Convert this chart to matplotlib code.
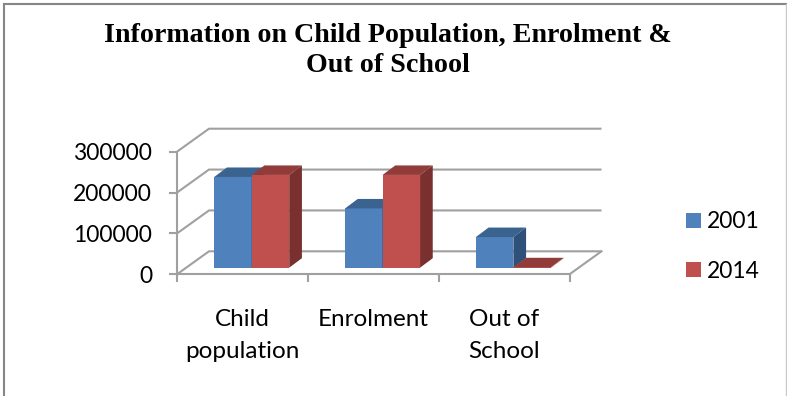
# -*- coding: utf-8 -*-

import numpy as np
import matplotlib.pyplot as plt
from matplotlib.patches import Polygon, Rectangle

categories = ["Child\npopulation", "Enrolment", "Out of\nSchool"]
years = ["2001", "2014"]
values_2001 = [222000, 145000, 75000]
values_2014 = [227000, 227000, 1000]
y_ticks = [0, 100000, 200000, 300000]

W, H = 787, 396
grey = "#a0a0a0"
colours = {"2001": ("#4f81bd", "#3b6390", "#2f5078"), "2014": ("#c0504d", "#923c3a", "#7a302e")}

fig = plt.figure(figsize=(W / 100, H / 100), dpi=100)
# main axes sits on the front edge of the 3d floor
left, right, bottom, top = 177, 569.5, 274.3, 151.7
ax = fig.add_axes([left / W, 1 - bottom / H, (right - left) / W, (bottom - top) / H])
ax.set_xlim(0, 3)
ax.set_ylim(0, 300000)
ax.patch.set_visible(False)

px = 3 / (right - left)            # data units per pixel
py = 300000 / (bottom - top)

# back wall and floor
depth_x, depth_y = 32 * px, 23 * py
for t in y_ticks:
    ax.plot([0, depth_x, 3 + depth_x], [t, t + depth_y, t + depth_y], color=grey, lw=1.5,
            clip_on=False, zorder=1, solid_capstyle="butt")
ax.plot([3, 3 + depth_x], [0, depth_y], color=grey, lw=1.5, clip_on=False, zorder=1)

# bars
off_x, off_y = 9.3 * px, 6.6 * py
bar_w = 37.5 * px
bar_dx, bar_dy = 12.7 * px, 9.5 * py


def bar3d(x0, val, year):
    front, topc, side = colours[year]
    x1 = x0 + bar_w
    ax.add_patch(Rectangle((x0, off_y), bar_w, val, fc=front, ec="none", zorder=3, clip_on=False))
    ax.add_patch(Polygon([(x0, off_y + val), (x1, off_y + val),
                          (x1 + bar_dx, off_y + val + bar_dy), (x0 + bar_dx, off_y + val + bar_dy)],
                         fc=topc, ec="none", zorder=3, clip_on=False))
    ax.add_patch(Polygon([(x1, off_y), (x1 + bar_dx, off_y + bar_dy),
                          (x1 + bar_dx, off_y + val + bar_dy), (x1, off_y + val)],
                         fc=side, ec="none", zorder=3, clip_on=False))


for i in range(3):
    c = i + 0.5 + off_x
    bar3d(c - bar_w, values_2001[i], "2001")
    bar3d(c, values_2014[i], "2014")

# axes
for s in ["top", "right"]:
    ax.spines[s].set_visible(False)
for s in ["left", "bottom"]:
    ax.spines[s].set_color(grey)
    ax.spines[s].set_linewidth(1.5)
    ax.spines[s].set_zorder(2)
ax.set_yticks(y_ticks)
ax.set_yticklabels([str(t) for t in y_ticks], fontsize=16.5, family="Lato", color="black")
ax.set_xticks(np.arange(4))
ax.set_xticklabels([])
ax.tick_params(axis="both", color=grey, width=1.5, length=6, pad=12)
for i, cat in enumerate(categories):
    ax.text(i + 0.5, -84000, cat, ha="center", va="top", fontsize=17.5, family="Lato",
            color="black", linespacing=1.65)

# legend
for name, y, sw in zip(years, [222, 271], [220.5, 269.5]):
    fig.patches.append(Rectangle((686 / W, 1 - (sw + 7.5) / H), 15 / W, 15 / H, fc=colours[name][0],
                                 ec="none", transform=fig.transFigure))
    fig.text(707 / W, 1 - y / H, name, ha="left", va="center", fontsize=16.5, family="Lato", color="black")

fig.text(388 / W, 1 - 36 / H, "Information on Child Population, Enrolment &", ha="center", va="center",
         fontsize=20.2, family="Liberation Serif", weight="bold", color="black")
fig.text(388 / W, 1 - 66 / H, "Out of School", ha="center", va="center",
         fontsize=20.2, family="Liberation Serif", weight="bold", color="black")

# chart frame, no bottom edge in the crop
border = "#868686"
fig.add_artist(plt.Line2D([3.5 / W, 3.5 / W], [0, 1 - 3.5 / H], color=border, lw=1.5))
fig.add_artist(plt.Line2D([3.5 / W, 786 / W], [1 - 3.5 / H, 1 - 3.5 / H], color=border, lw=1.5))
fig.add_artist(plt.Line2D([786 / W, 786 / W], [0, 1 - 3.5 / H], color="#c8c8c8", lw=1))

fig.savefig("out.png", dpi=100)
